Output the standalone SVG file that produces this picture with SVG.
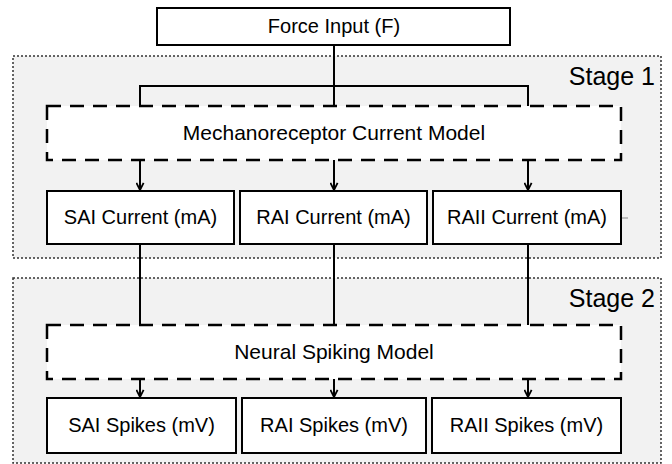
<svg xmlns="http://www.w3.org/2000/svg" width="672" height="464" viewBox="0 0 672 464">
  <style>
    .stage { fill: #f2f2f2; stroke: #333; stroke-width: 1.5; stroke-dasharray: 2 2; }
    .box { fill: #fff; stroke: #000; stroke-width: 2; }
    .model { fill: #fff; stroke: #000; stroke-width: 2.5; stroke-dasharray: 14 9; }
    .lbl { font-family: "Liberation Sans", Arial, sans-serif; font-size: 20px; fill: #000; text-anchor: middle; }
    .big { font-size: 21px; }
    .stg { font-family: "Liberation Sans", Arial, sans-serif; font-size: 25px; fill: #000; text-anchor: end; }
    .wire { fill: none; stroke: #000; stroke-width: 2; }
  </style>
  <defs>
    <marker id="ah" viewBox="0 0 10 10" refX="9" refY="5" markerWidth="9" markerHeight="9" markerUnits="userSpaceOnUse" orient="auto">
      <path d="M1,1 L9,5 L1,9" fill="none" stroke="#000" stroke-width="2"/>
    </marker>
  </defs>

  <g id="stage1">
    <rect class="stage" x="13" y="56" width="648" height="202"/>
    <text class="stg" x="655" y="85">Stage 1</text>
  </g>
  <g id="stage2">
    <rect class="stage" x="13" y="278" width="648" height="185"/>
    <text class="stg" x="655" y="307">Stage 2</text>
  </g>

  <g id="connectors">
    <path class="wire" d="M334,45 V106 M140,106 V86 H528 V106"/>
    <path class="wire" d="M140,160 V190" marker-end="url(#ah)"/>
    <path class="wire" d="M334,160 V190" marker-end="url(#ah)"/>
    <path class="wire" d="M528,160 V190" marker-end="url(#ah)"/>
    <path class="wire" d="M140,244 V325 M334,244 V325 M528,244 V325"/>
    <path class="wire" d="M140,379 V397" marker-end="url(#ah)"/>
    <path class="wire" d="M334,379 V397" marker-end="url(#ah)"/>
    <path class="wire" d="M528,379 V397" marker-end="url(#ah)"/>
    <path d="M621,218 H628" stroke="#888" stroke-width="1" fill="none"/>
  </g>

  <g id="force">
    <rect class="box" x="157" y="8" width="353" height="37"/>
    <text class="lbl" x="334" y="33">Force Input (F)</text>
  </g>

  <g id="mechano">
    <rect class="model" x="47" y="106" width="574" height="54"/>
    <text class="lbl big" x="334" y="140">Mechanoreceptor Current Model</text>
  </g>

  <g id="sai-current">
    <rect class="box" x="47" y="191" width="187" height="53"/>
    <text class="lbl" x="140.5" y="224">SAI Current (mA)</text>
  </g>
  <g id="rai-current">
    <rect class="box" x="240" y="191" width="187" height="53"/>
    <text class="lbl" x="333.5" y="224">RAI Current (mA)</text>
  </g>
  <g id="raii-current">
    <rect class="box" x="433" y="191" width="188" height="53"/>
    <text class="lbl" x="527" y="224">RAII Current (mA)</text>
  </g>

  <g id="neural">
    <rect class="model" x="47" y="325" width="574" height="54"/>
    <text class="lbl big" x="334" y="359">Neural Spiking Model</text>
  </g>

  <g id="sai-spikes">
    <rect class="box" x="47" y="398" width="189" height="55"/>
    <text class="lbl" x="141.5" y="432">SAI Spikes (mV)</text>
  </g>
  <g id="rai-spikes">
    <rect class="box" x="242" y="398" width="184" height="55"/>
    <text class="lbl" x="334" y="432">RAI Spikes (mV)</text>
  </g>
  <g id="raii-spikes">
    <rect class="box" x="432" y="398" width="189" height="55"/>
    <text class="lbl" x="526.5" y="432">RAII Spikes (mV)</text>
  </g>
</svg>
